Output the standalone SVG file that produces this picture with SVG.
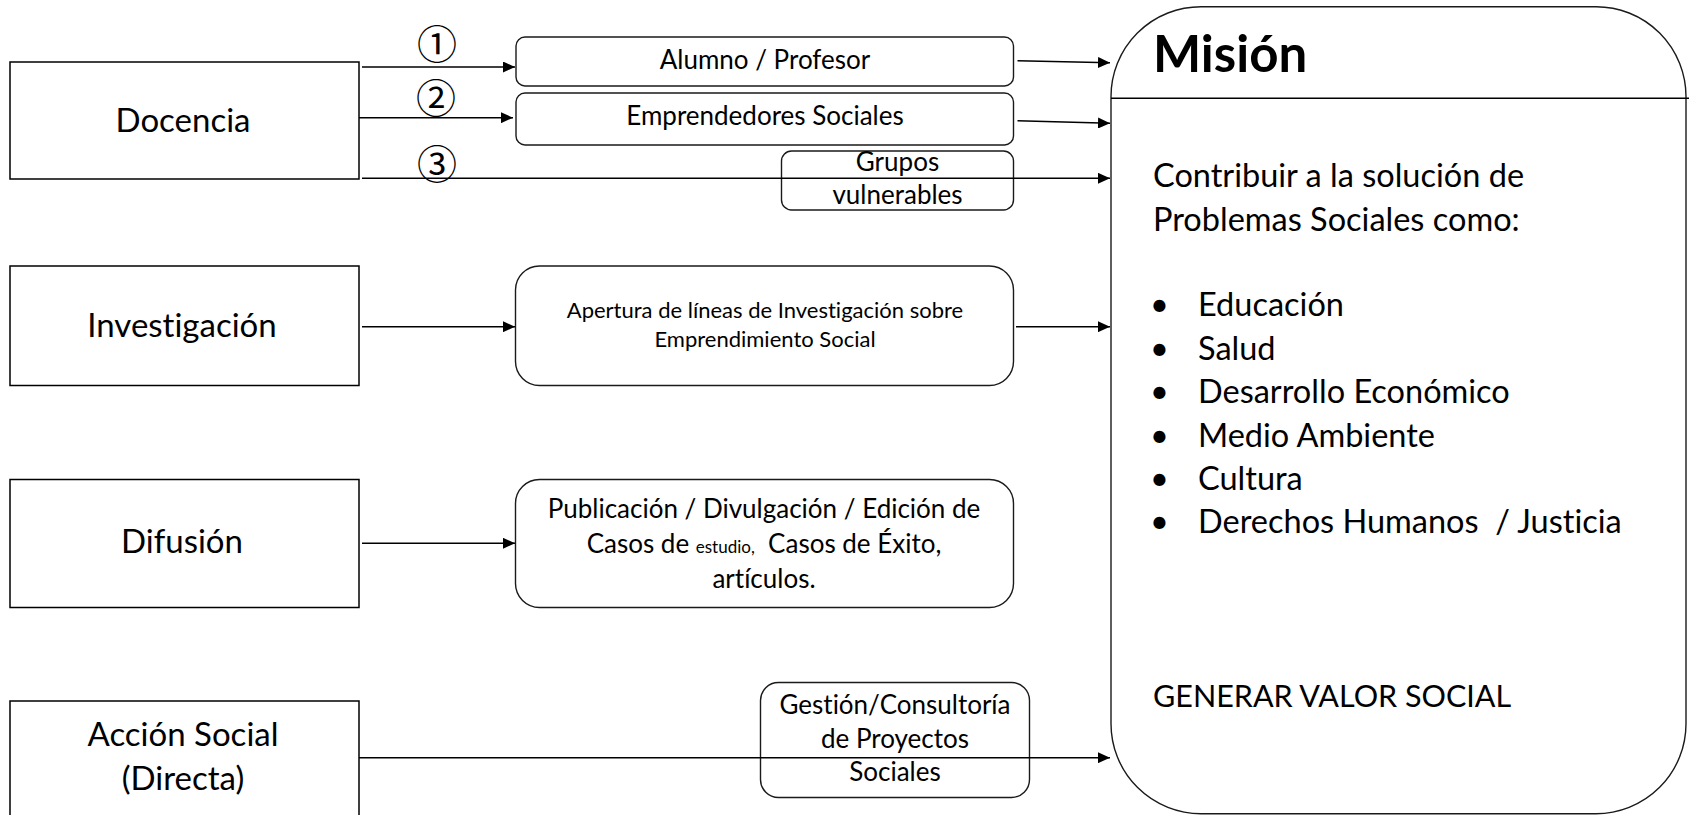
<svg xmlns="http://www.w3.org/2000/svg" width="1689" height="815" viewBox="0 0 1689 815">
<style>
.box{fill:#fff;stroke:#000;stroke-width:1.5}
.rbox{fill:#fff;stroke:#1a1a1a;stroke-width:1.4}
.t{font-family:Lato,"Liberation Sans",sans-serif;fill:#000;font-variant-ligatures:none}
.lbl{font-size:33px;text-anchor:middle}
.mid{font-size:26px;text-anchor:middle}
.sm{font-size:22px;text-anchor:middle}
.body{font-size:32.5px}
.num{font-family:"Noto Sans CJK JP","DejaVu Sans",sans-serif;font-size:40px;text-anchor:middle;fill:#000}
.conn line{stroke:#000;stroke-width:1.5;marker-end:url(#ah)}
</style>
<defs>
<marker id="ah" markerUnits="userSpaceOnUse" markerWidth="12" markerHeight="11" refX="12" refY="5.5" orient="auto">
<path d="M0,0 L12,5.5 L0,11 Z" fill="#000"/>
</marker>
</defs>

<g id="docencia">
<rect class="box" x="10" y="62" width="349" height="117"/>
<text class="t lbl" x="183" y="132">Docencia</text>
</g>
<g id="investigacion">
<rect class="box" x="10" y="266" width="349" height="119.5"/>
<text class="t lbl" x="182" y="336.5">Investigación</text>
</g>
<g id="difusion">
<rect class="box" x="10" y="479.5" width="349" height="128"/>
<text class="t lbl" x="182" y="553">Difusión</text>
</g>
<g id="accion">
<path class="box" d="M10,818 L10,701 L359,701 L359,818"/>
<text class="t lbl" x="183" y="745.5">Acción Social</text>
<text class="t lbl" x="183" y="790">(Directa)</text>
</g>

<g id="alumno">
<rect class="rbox" x="516" y="37" width="497.5" height="49" rx="9"/>
<text class="t mid" x="765" y="69">Alumno / Profesor</text>
</g>
<g id="emprendedores">
<rect class="rbox" x="516" y="93" width="497.5" height="52" rx="9"/>
<text class="t mid" x="765" y="125">Emprendedores Sociales</text>
</g>
<g id="grupos">
<rect class="rbox" x="781.5" y="151" width="232" height="59" rx="10"/>
<text class="t mid" x="897.5" y="170.5">Grupos</text>
<text class="t mid" x="897.5" y="204">vulnerables</text>
</g>
<g id="apertura">
<rect class="rbox" x="515.5" y="266" width="498" height="119.5" rx="24"/>
<text class="t sm" x="765" y="318">Apertura de líneas de Investigación sobre</text>
<text class="t sm" x="765" y="346.5">Emprendimiento Social</text>
</g>
<g id="publicacion">
<rect class="rbox" x="515.5" y="479.5" width="498" height="128" rx="24"/>
<text class="t mid" x="764" y="517.5">Publicación / Divulgación / Edición de</text>
<text class="t mid" x="764" y="553" xml:space="preserve">Casos de <tspan font-size="17px">estudio,</tspan>  Casos de Éxito,</text>
<text class="t mid" x="764" y="588">artículos.</text>
</g>
<g id="gestion">
<rect class="rbox" x="760.5" y="682.5" width="269" height="115" rx="18"/>
<text class="t mid" x="895" y="714">Gestión/Consultoría</text>
<text class="t mid" x="895" y="748">de Proyectos</text>
<text class="t mid" x="895" y="780.5">Sociales</text>
</g>

<g id="mision">
<rect class="rbox" x="1111" y="6.7" width="575" height="807" rx="90" ry="90"/>
<line x1="1111" y1="98.3" x2="1689" y2="98.3" stroke="#000" stroke-width="1.5"/>
<text class="t" x="1153" y="72" font-size="51px" font-weight="bold">Misión</text>
<text class="t body" x="1153" y="187">Contribuir a la solución de</text>
<text class="t body" x="1153" y="231">Problemas Sociales como:</text>
<g class="t body">
<text x="1150" y="316">•</text><text x="1198" y="316">Educación</text>
<text x="1150" y="360">•</text><text x="1198" y="360">Salud</text>
<text x="1150" y="403">•</text><text x="1198" y="403">Desarrollo Económico</text>
<text x="1150" y="447">•</text><text x="1198" y="447">Medio Ambiente</text>
<text x="1150" y="490">•</text><text x="1198" y="490">Cultura</text>
<text x="1150" y="533">•</text><text x="1198" y="533" xml:space="preserve">Derechos Humanos  / Justicia</text>
</g>
<text class="t" x="1153" y="707" font-size="30.5px">GENERAR VALOR SOCIAL</text>
</g>

<g id="labels">
<text class="num" x="437" y="59">①</text>
<text class="num" x="436" y="113">②</text>
<text class="num" x="437" y="179">③</text>
</g>

<g id="connectors" class="conn">
<line x1="362" y1="67" x2="515" y2="67"/>
<line x1="359" y1="117.7" x2="513" y2="117.7"/>
<line x1="362" y1="178.3" x2="1110" y2="178.3"/>
<line x1="1017.5" y1="60.7" x2="1110" y2="62.7"/>
<line x1="1017.5" y1="120.7" x2="1110" y2="123.3"/>
<line x1="362" y1="326.7" x2="515" y2="326.7"/>
<line x1="1016" y1="326.7" x2="1110" y2="326.7"/>
<line x1="362" y1="543.3" x2="515" y2="543.3"/>
<line x1="359" y1="757.7" x2="1110" y2="757.7"/>
</g>
</svg>
